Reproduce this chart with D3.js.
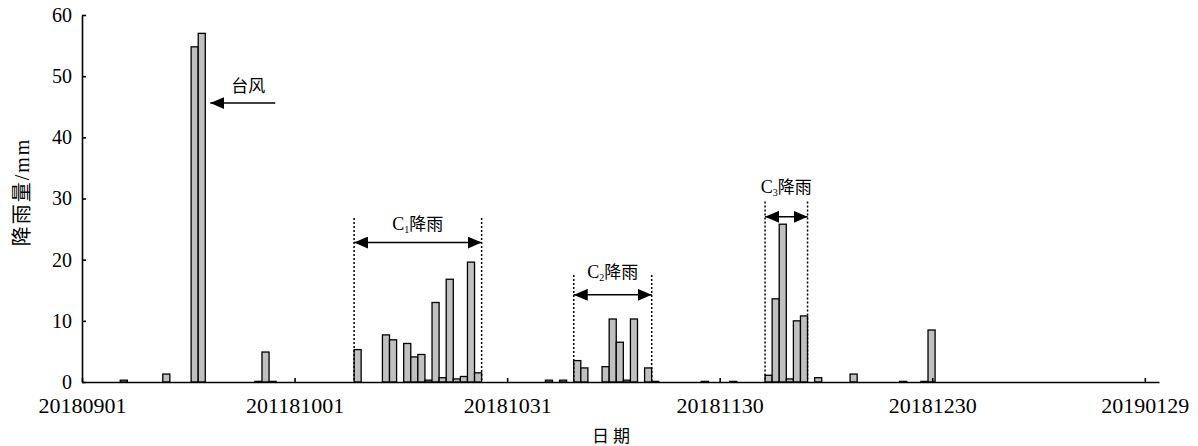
<!DOCTYPE html>
<html>
<head>
<meta charset="utf-8">
<script src="https://cdn.jsdelivr.net/npm/d3@7"></script>
<style>
  body { margin: 0; background: #fff; }
  svg { display: block; }
</style>
</head>
<body>
<svg id="chart" width="1198" height="446"></svg>
<script>
// daily rainfall (mm), only days with rain
const rainDates = [
  "20180906", "20180912", "20180916", "20180917", "20180925", "20180926", "20180927",
  "20181009", "20181013", "20181014", "20181016", "20181017", "20181018", "20181019",
  "20181020", "20181021", "20181022", "20181023", "20181024", "20181025", "20181026",
  "20181105", "20181107", "20181109", "20181110", "20181113", "20181114", "20181115",
  "20181116", "20181117", "20181119", "20181120", "20181127", "20181201", "20181206",
  "20181207", "20181208", "20181209", "20181210", "20181211", "20181213", "20181218",
  "20181225", "20181228", "20181229"
];
const rainValues = [
  0.3, 1.3, 54.8, 57.0, 0.1, 4.9, 0.1,
  5.3, 7.7, 6.9, 6.3, 4.1, 4.5, 0.3,
  13.0, 0.7, 16.8, 0.5, 0.9, 19.6, 1.5,
  0.3, 0.3, 3.5, 2.3, 2.5, 10.3, 6.5,
  0.3, 10.3, 2.3, 0.1, 0.1, 0.1, 1.1,
  13.6, 25.8, 0.5, 10.0, 10.8, 0.7, 1.3,
  0.1, 0.1, 8.5
];

// x tick dates and their printed labels (the 2nd label is printed that way in the source)
const tickDates = ["20180901", "20181001", "20181031", "20181130", "20181230", "20190129"];
const tickLabels = ["20180901", "201181001", "20181031", "20181130", "20181230", "20190129"];
const yTicks = [0, 10, 20, 30, 40, 50, 60];

// rain periods: first and last day, label subscript, y of arrow / label / dotted top
const periods = [
  { from: "20181009", to: "20181026", sub: "1", arrowY: 22.8, labelY: 24.9, topY: 26.8 },
  { from: "20181109", to: "20181119", sub: "2", arrowY: 14.25, labelY: 17.0, topY: 17.5 },
  { from: "20181206", to: "20181211", sub: "3", arrowY: 27.0, labelY: 30.9, topY: 29.5 }
];

const parse = d3.timeParse("%Y%m%d");
const data = rainDates.map((d, i) => ({ date: parse(d), value: rainValues[i] }));

const svg = d3.select("#chart");
const margin = { left: 82, right: 39, top: 15, bottom: 64 };
const W = 1198, H = 446;

const start = parse("20180901");
const x = d3.scaleTime()
  .domain([start, d3.timeDay.offset(start, 152)])
  .range([margin.left, W - margin.right]);
const y = d3.scaleLinear().domain([0, 60]).range([H - margin.bottom, margin.top]);

const dayW = x(d3.timeDay.offset(start, 1)) - x(start);
const shift = 0.4 * dayW; // bars sit a little right of their day mark
const barLeft = d => x(d) + shift;

const serif = "'Liberation Serif', 'Times New Roman', 'Noto Sans CJK SC', serif";
const cjk = "'Noto Sans CJK SC', 'Liberation Serif', sans-serif";

// bars
svg.append("g")
  .selectAll("rect")
  .data(data)
  .join("rect")
  .attr("x", d => barLeft(d.date))
  .attr("y", d => y(d.value))
  .attr("width", dayW)
  .attr("height", d => y(0) - y(d.value))
  .attr("fill", "#c0c0c0")
  .attr("stroke", "#000")
  .attr("stroke-width", 1.3);

// y axis
const yAxis = svg.append("g")
  .attr("transform", `translate(${margin.left},0)`)
  .call(d3.axisLeft(y).tickValues(yTicks).tickSize(-4).tickPadding(10).tickSizeOuter(0));
yAxis.select(".domain").attr("stroke-width", 1.6);
yAxis.selectAll(".tick line").attr("stroke-width", 1.6);
yAxis.selectAll(".tick text")
  .attr("font-family", serif).attr("font-size", 20).attr("fill", "#000");

// x axis
const xAxis = svg.append("g")
  .attr("transform", `translate(0,${y(0)})`)
  .call(d3.axisBottom(x)
    .tickValues(tickDates.map(parse))
    .tickFormat((d, i) => tickLabels[i])
    .tickSize(-4).tickPadding(15).tickSizeOuter(0));
xAxis.select(".domain").attr("stroke-width", 1.6);
xAxis.selectAll(".tick line").attr("stroke-width", 1.6);
xAxis.selectAll(".tick text")
  .attr("font-family", serif).attr("font-size", 22).attr("fill", "#000");

// axis titles
svg.append("text")
  .attr("transform", `translate(29,192) rotate(-90)`)
  .attr("text-anchor", "middle")
  .attr("font-family", serif).attr("font-size", 20)
  .attr("letter-spacing", 2)
  .text("降雨量/mm");

svg.append("text")
  .attr("x", 611).attr("y", 442)
  .attr("text-anchor", "middle")
  .attr("font-family", cjk).attr("font-size", 17)
  .attr("xml:space", "preserve")
  .text("日 期");

// arrow markers
const defs = svg.append("defs");
defs.append("marker")
  .attr("id", "head")
  .attr("viewBox", "0 0 14 12")
  .attr("refX", 14).attr("refY", 6)
  .attr("markerWidth", 14).attr("markerHeight", 12)
  .attr("markerUnits", "userSpaceOnUse")
  .attr("orient", "auto-start-reverse")
  .append("path").attr("d", "M0,0L14,6L0,12Z").attr("fill", "#000");

// typhoon annotation
const typhoon = data.find(d => d.value === d3.max(rainValues));
const tipX = barLeft(typhoon.date) + dayW + 5;
svg.append("line")
  .attr("x1", tipX + 65).attr("x2", tipX)
  .attr("y1", y(45.6)).attr("y2", y(45.6))
  .attr("stroke", "#000").attr("stroke-width", 1.5)
  .attr("marker-end", "url(#head)");
svg.append("text")
  .attr("x", tipX + 38).attr("y", y(47.4))
  .attr("text-anchor", "middle")
  .attr("font-family", cjk).attr("font-size", 17)
  .text("台风");

// rain periods
periods.forEach(p => {
  const x0 = barLeft(parse(p.from));
  const x1 = barLeft(parse(p.to)) + dayW;
  const g = svg.append("g");
  [x0, x1].forEach(xx => {
    g.append("line")
      .attr("x1", xx).attr("x2", xx)
      .attr("y1", y(p.topY)).attr("y2", y(0))
      .attr("stroke", "#000").attr("stroke-width", 1.5)
      .attr("stroke-dasharray", "2,2");
  });
  g.append("line")
    .attr("x1", x0).attr("x2", x1)
    .attr("y1", y(p.arrowY)).attr("y2", y(p.arrowY))
    .attr("stroke", "#000").attr("stroke-width", 1.5)
    .attr("marker-start", "url(#head)")
    .attr("marker-end", "url(#head)");
  const t = g.append("text")
    .attr("x", (x0 + x1) / 2).attr("y", y(p.labelY))
    .attr("text-anchor", "middle")
    .attr("font-family", serif).attr("font-size", 18);
  t.append("tspan").text("C");
  t.append("tspan").attr("font-size", 10).attr("dy", 3).text(p.sub);
  t.append("tspan").attr("dy", -3).attr("font-family", cjk).attr("font-size", 17).text("降雨");
});
</script>
</body>
</html>
